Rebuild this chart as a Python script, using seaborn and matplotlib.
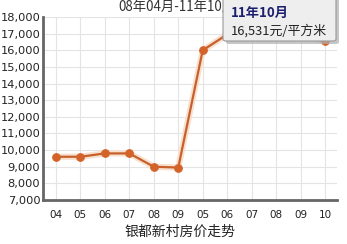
import matplotlib
matplotlib.use("Agg")
import matplotlib.pyplot as plt
import seaborn as sns
import pandas as pd
from matplotlib.patches import FancyBboxPatch

months = ["04", "05", "06", "07", "08", "09", "05", "06", "07", "08", "09", "10"]
prices = [9600, 9600, 9800, 9800, 9000, 8950, 16000, 16950, 16950, 16900, 16850, 16531]
yticks = [7000, 8000, 9000, 10000, 11000, 12000, 13000, 14000, 15000, 16000, 17000, 18000]
title_text = "08年04月-11年10月"
xlabel_text = "银都新村房价走势"
tip_title = "11年10月"
tip_value = "16,531元/平方米"

df = pd.DataFrame({"idx": range(len(months)), "price": prices})

sns.set_style("white")
plt.rcParams["font.family"] = ["DejaVu Sans", "Noto Sans CJK SC"]

W, H = 347, 244
fig = plt.figure(figsize=(W / 100, H / 100), dpi=100)
ax = fig.add_axes([43 / W, 1 - 200 / H, (337 - 43) / W, (200 - 17) / H])

# glow
sns.lineplot(data=df, x="idx", y="price", ax=ax, color="#f8e0cf", linewidth=4.5, legend=False, zorder=2)
sns.lineplot(data=df, x="idx", y="price", ax=ax, color="#c8602c", linewidth=1.6,
             marker="o", markersize=5.5, markerfacecolor="#d4632a", markeredgecolor="#d4632a",
             legend=False, zorder=3)

ax.set_xlim(-0.53, 11.49)
ax.set_ylim(7000, 18000)
ax.set_xticks(range(len(months)))
ax.set_xticklabels(months, fontsize=7.5, color="#222222")
ax.set_yticks(yticks)
ax.set_yticklabels([f"{v:,}" for v in yticks], fontsize=8.2, color="#222222")
ax.grid(True, color="#e4e4e4", linewidth=0.8)
ax.set_axisbelow(True)
for s in ["top", "right"]:
    ax.spines[s].set_visible(False)
for s in ["left", "bottom"]:
    ax.spines[s].set_color("#666666")
    ax.spines[s].set_linewidth(2)
ax.tick_params(axis="x", direction="inout", length=4, width=1, color="#888888", pad=5)
ax.tick_params(axis="y", length=0, pad=2)
ax.set_xlabel("")
ax.set_ylabel("")

fig.text(180 / W, 1 - 232 / H, xlabel_text, ha="center", va="center", fontsize=10,
         family=["Noto Sans CJK SC", "DejaVu Sans"], color="#222222")
fig.text(118 / W, 1 - 7 / H, title_text, ha="left", va="center", fontsize=9.6,
         family=["Noto Sans CJK SC", "DejaVu Sans"], color="#333333", zorder=1)

# tooltip
shadow = FancyBboxPatch((226 / W, 1 - 44 / H), 113 / W, 46 / H, boxstyle="round,pad=0,rounding_size=0.008",
                        transform=fig.transFigure, facecolor="#b0b0b0", edgecolor="none", alpha=0.7, zorder=9)
box = FancyBboxPatch((223 / W, 1 - 41 / H), 113 / W, 46 / H, boxstyle="round,pad=0,rounding_size=0.008",
                     transform=fig.transFigure, facecolor="#eeeeef", edgecolor="#999999", linewidth=0.8, zorder=10)
fig.patches.extend([shadow, box])
fig.text(231 / W, 1 - 13 / H, tip_title, ha="left", va="center", fontsize=9.5, fontweight="bold",
         family=["Noto Sans CJK SC", "DejaVu Sans"], color="#1c1f6e", zorder=11)
fig.text(231 / W, 1 - 31 / H, tip_value, ha="left", va="center", fontsize=9.3,
         family=["Noto Sans CJK SC", "DejaVu Sans"], color="#222222", zorder=11)

fig.savefig("out.png", dpi=100)
